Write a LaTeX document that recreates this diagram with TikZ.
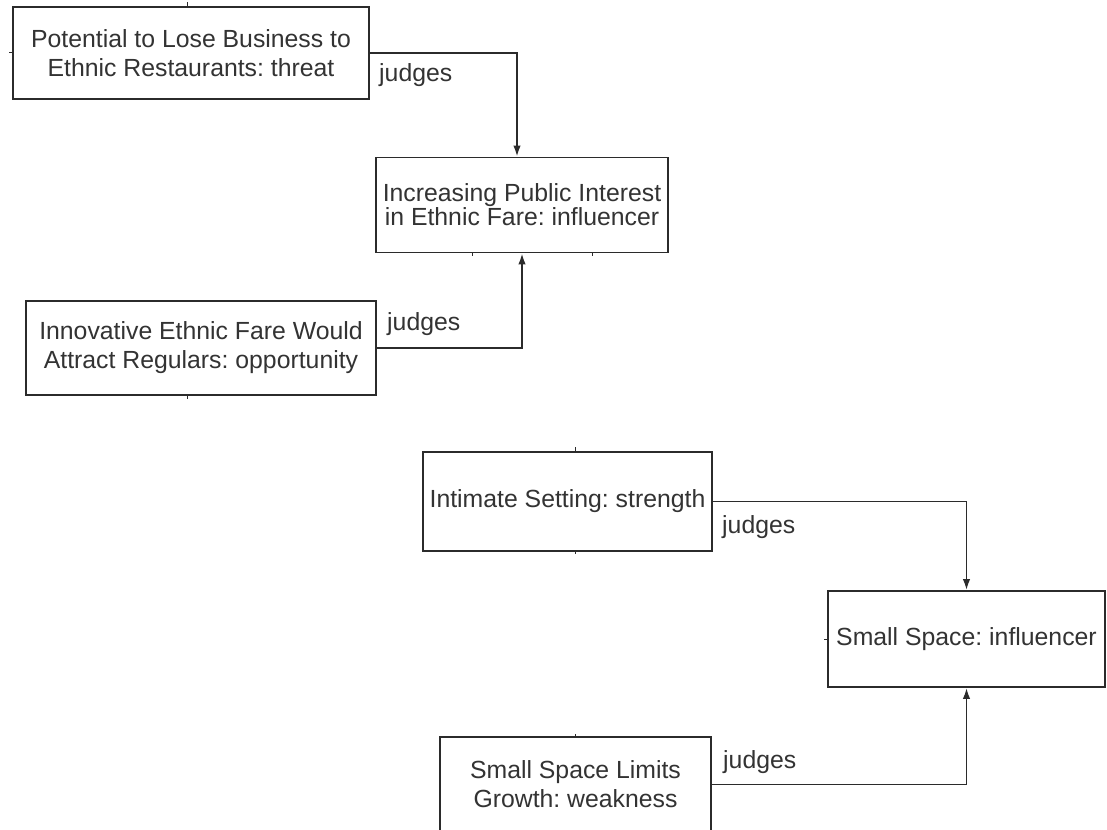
\documentclass[tikz,border=0pt]{standalone}
\usepackage{fontspec}
\setmainfont{Liberation Sans}
\usetikzlibrary{arrows.meta,calc}
\definecolor{ink}{HTML}{333333}
\definecolor{edge}{HTML}{2B2B2B}
\frenchspacing
\begin{document}
\begin{tikzpicture}[x=1pt,y=-1pt,
  box/.style={draw=edge, line width=1.8pt, fill=white, text=ink, align=center,
    inner sep=0pt, font=\fontsize{24.8}{29}\selectfont},
  link/.style={draw=edge, line width=1.8pt, -{Latex[length=11pt,width=7.5pt]}},
  lbl/.style={text=ink, inner sep=0pt, anchor=base west,
    font=\fontsize{24.8}{29}\selectfont},
  tick/.style={draw=edge, line width=1pt}]
\useasboundingbox (0,0) rectangle (1107,829);
\clip (0,0) rectangle (1107,829);

% SWOT items and the influencers they judge
\node[box, minimum width=356pt, minimum height=92pt] (b1) at (191,53)
  {Potential to Lose Business to\\Ethnic Restaurants: threat};
\node[box, minimum width=292pt, minimum height=95pt,
  font=\fontsize{24.8}{23}\selectfont] (b2) at (522,205)
  {Increasing Public Interest\\in Ethnic Fare: influencer};
\node[box, minimum width=350pt, minimum height=94pt] (b3) at (201,348)
  {Innovative Ethnic Fare Would\\Attract Regulars: opportunity};
\node[box, minimum width=289pt, minimum height=99pt] (b4) at (567.5,501.5)
  {Intimate Setting: strength};
\node[box, minimum width=277pt, minimum height=96pt] (b5) at (966.5,639)
  {Small Space: influencer};
\node[box, minimum width=271pt, minimum height=95pt] (b6) at (575.5,784.5)
  {Small Space Limits\\Growth: weakness};

% connectors
\draw[link] (b1.east) -| ($(b2.north)+(-5,0)$);
\draw[link] (b3.east) -| (b2.south);
\draw[link] (b4.east) -| (b5.north);
\draw[link] (b6.east) -| (b5.south);

% connector labels
\node[lbl] (j1) at (379,82) {judges};
\node[lbl] (j2) at (387,330) {judges};
\node[lbl] (j3) at (722,533) {judges};
\node[lbl] (j4) at (723,768) {judges};

% small port ticks on the box outlines
\draw[tick] ($(b1.north west)+(175,0)$) -- ++(0,-4);
\draw[tick] (b1.west) -- ++(-3,0);
\draw[tick] ($(b2.south west)+(97,0)$) -- ++(0,3);
\draw[tick] ($(b2.south west)+(217,0)$) -- ++(0,3);
\draw[tick] ($(b3.south west)+(162,0)$) -- ++(0,3);
\draw[tick] ($(b4.north west)+(153,0)$) -- ++(0,-4);
\draw[tick] ($(b4.south west)+(153,0)$) -- ++(0,2);
\draw[tick] (b5.west) -- ++(-3,0);
\draw[tick] ($(b6.north west)+(136,0)$) -- ++(0,-2);
\end{tikzpicture}
\end{document}
